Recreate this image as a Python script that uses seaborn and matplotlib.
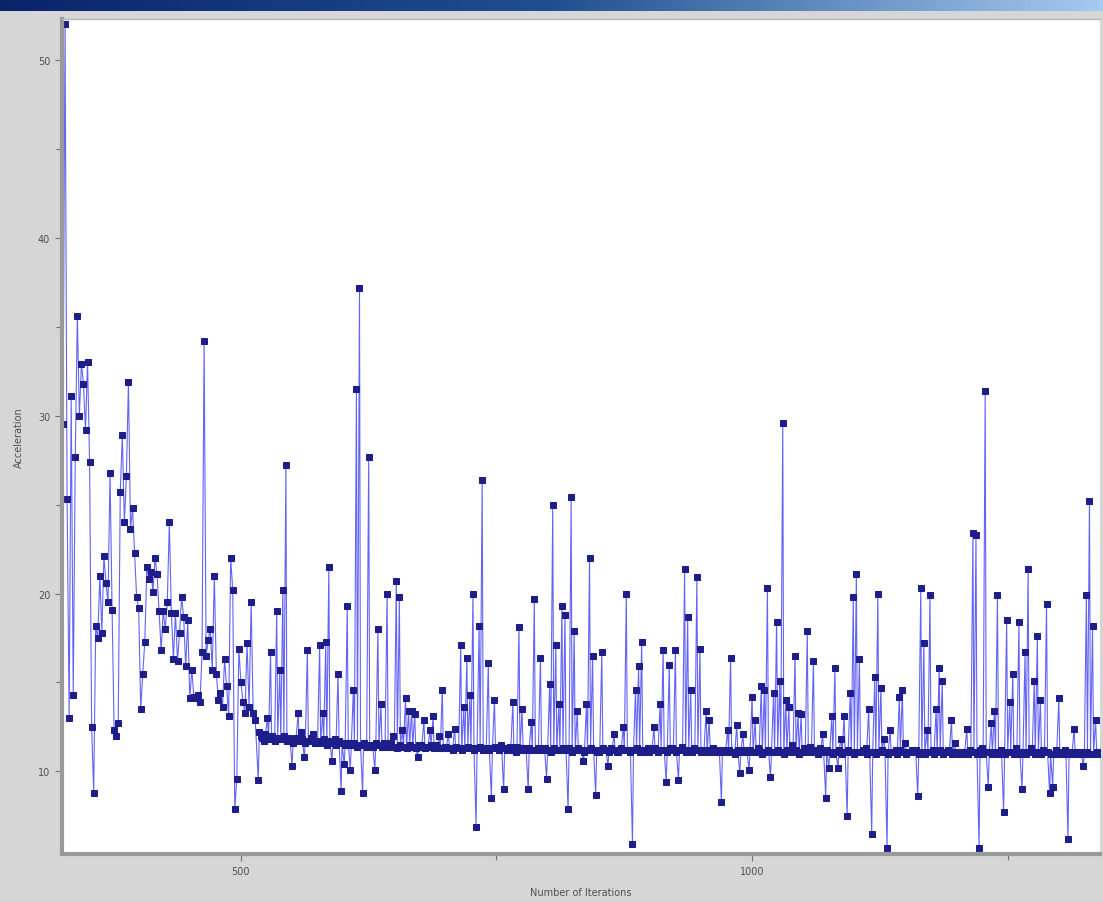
import numpy as np
import pandas as pd
import matplotlib
matplotlib.use("Agg")
import matplotlib.pyplot as plt
from matplotlib.colors import LinearSegmentedColormap
from matplotlib.ticker import MultipleLocator
import seaborn as sns

# ---- data ----
# early part, every 2nd iteration
early_iters = np.arange(326, 515, 2)
early_vals = [
    29.5, 52.0, 25.3, 13.0, 31.1, 14.3, 27.7, 35.6, 30.0, 32.9,
    31.8, 29.2, 33.0, 27.4, 12.5, 8.8, 18.2, 17.5, 21.0, 17.8,
    22.1, 20.6, 19.5, 26.8, 19.1, 12.3, 12.0, 12.7, 25.7, 28.9,
    24.0, 26.6, 31.9, 23.6, 24.8, 22.3, 19.8, 19.2, 13.5, 15.5,
    17.3, 21.5, 20.8, 21.2, 20.1, 22.0, 21.1, 19.0, 16.8, 19.0,
    18.0, 19.5, 24.0, 18.9, 16.3, 18.9, 16.2, 17.8, 19.8, 18.7,
    15.9, 18.5, 14.1, 15.7, 14.2, 14.1, 14.3, 13.9, 16.7, 34.2,
    16.5, 17.4, 18.0, 15.7, 21.0, 15.5, 14.0, 14.4, 13.6, 16.3,
    14.8, 13.1, 22.0, 20.2, 7.9, 9.6, 16.9, 15.0, 13.9, 13.3,
    17.2, 13.6, 19.5, 13.3, 12.9,
]
# rest, readings every 3rd iteration (spikes and scatter)
late_iters = np.arange(517, 1340, 3)
late_vals = [
    9.5, 12.0, 11.7, 13.0, 16.7, 11.8, 19.0, 15.7, 20.2, 27.2,
    11.9, 10.3, 11.8, 13.3, 12.2, 10.8, 16.8, 11.7, 12.1, 11.6,
    17.1, 13.3, 17.3, 21.5, 10.6, 11.8, 15.5, 8.9, 10.4, 19.3,
    10.1, 14.6, 31.5, 37.2, 8.8, 11.5, 27.7, 11.4, 10.1, 18.0,
    13.8, 11.6, 20.0, 11.4, 12.0, 20.7, 19.8, 12.3, 14.1, 13.4,
    13.4, 13.2, 10.8, 11.5, 12.9, 11.4, 12.3, 13.1, 11.5, 12.0,
    14.6, 11.4, 12.1, 11.3, 12.4, 11.3, 17.1, 13.6, 16.4, 14.3,
    20.0, 6.9, 18.2, 26.4, 11.2, 16.1, 8.5, 14.0, 11.3, 11.5,
    9.0, 11.2, 11.4, 13.9, 11.1, 18.1, 13.5, 11.3, 9.0, 12.8,
    19.7, 11.2, 16.4, 11.3, 9.6, 14.9, 25.0, 17.1, 13.8, 19.3,
    18.8, 7.9, 25.4, 17.9, 13.4, 11.2, 10.6, 13.8, 22.0, 16.5,
    8.7, 11.1, 16.7, 11.2, 10.3, 11.3, 12.1, 11.1, 11.2, 12.5,
    20.0, 11.2, 5.9, 14.6, 15.9, 17.3, 11.1, 11.3, 11.2, 12.5,
    11.2, 13.8, 16.8, 9.4, 16.0, 11.3, 16.8, 9.5, 11.4, 21.4,
    18.7, 14.6, 11.3, 20.9, 16.9, 11.2, 13.4, 12.9, 11.1, 11.2,
    11.1, 8.3, 11.2, 12.3, 16.4, 11.1, 12.6, 9.9, 12.1, 11.2,
    10.1, 14.2, 12.9, 11.3, 14.8, 14.6, 20.3, 9.7, 14.4, 18.4,
    15.1, 29.6, 14.0, 13.6, 11.5, 16.5, 13.3, 13.2, 11.3, 17.9,
    11.4, 16.2, 11.2, 11.3, 12.1, 8.5, 10.2, 13.1, 15.8, 10.2,
    11.8, 13.1, 7.5, 14.4, 19.8, 21.1, 16.3, 11.2, 11.3, 13.5,
    6.5, 15.3, 20.0, 14.7, 11.8, 5.7, 12.3, 11.1, 11.2, 14.2,
    14.6, 11.6, 11.1, 11.2, 11.1, 8.6, 20.3, 17.2, 12.3, 19.9,
    11.2, 13.5, 15.8, 15.1, 11.1, 11.2, 12.9, 11.6, 11.1, 11.0,
    11.1, 12.4, 11.2, 23.4, 23.3, 5.7, 11.3, 31.4, 9.1, 12.7,
    13.4, 19.9, 11.2, 7.7, 18.5, 13.9, 15.5, 11.3, 18.4, 9.0,
    16.7, 21.4, 11.3, 15.1, 17.6, 14.0, 11.2, 19.4, 8.8, 9.1,
    11.2, 14.1, 11.1, 11.2, 6.2, 11.1, 12.4, 11.0, 11.1, 10.3,
    19.9, 25.2, 18.2, 12.9, 11.1,
]
# the dense settled band, read one iteration after each of the above
band_iters = np.arange(518, 1341, 3)
band_vals = [
    12.2, 11.9, 12.1, 11.8, 12.0, 11.7, 11.9, 11.8, 12.0, 11.7,
    11.8, 11.6, 11.9, 11.7, 11.8, 11.6, 11.7, 11.9, 11.6, 11.7,
    11.6, 11.8, 11.5, 11.7, 11.6, 11.5, 11.7, 11.6, 11.5, 11.6,
    11.5, 11.6, 11.4, 11.5, 11.6, 11.4, 11.5, 11.4, 11.6, 11.5,
    11.4, 11.5, 11.4, 11.6, 11.4, 11.3, 11.5, 11.4, 11.3, 11.5,
    11.4, 11.3, 11.5, 11.4, 11.3, 11.4, 11.5, 11.3, 11.4, 11.3,
    11.3, 11.4, 11.3, 11.2, 11.4, 11.3, 11.2, 11.3, 11.4, 11.3,
    11.2, 11.3, 11.4, 11.2, 11.3, 11.2, 11.3, 11.4, 11.2, 11.3,
    11.3, 11.2, 11.3, 11.2, 11.4, 11.2, 11.3, 11.2, 11.3, 11.2,
    11.2, 11.3, 11.2, 11.3, 11.2, 11.1, 11.3, 11.2, 11.2, 11.3,
    11.2, 11.3, 11.1, 11.2, 11.3, 11.2, 11.1, 11.2, 11.3, 11.2,
    11.1, 11.2, 11.3, 11.2, 11.1, 11.2, 11.2, 11.1, 11.3, 11.2,
    11.2, 11.1, 11.2, 11.3, 11.1, 11.2, 11.2, 11.1, 11.2, 11.3,
    11.1, 11.2, 11.2, 11.1, 11.3, 11.2, 11.1, 11.2, 11.2, 11.1,
    11.2, 11.1, 11.2, 11.2, 11.1, 11.2, 11.1, 11.2, 11.3, 11.1,
    11.1, 11.2, 11.1, 11.2, 11.1, 11.0, 11.2, 11.1, 11.2, 11.1,
    11.2, 11.1, 11.1, 11.2, 11.0, 11.1, 11.2, 11.1, 11.1, 11.2,
    11.1, 11.0, 11.2, 11.1, 11.1, 11.2, 11.0, 11.1, 11.2, 11.1,
    11.1, 11.2, 11.0, 11.1, 11.1, 11.2, 11.1, 11.0, 11.1, 11.2,
    11.0, 11.1, 11.2, 11.1, 11.0, 11.1, 11.1, 11.2, 11.0, 11.1,
    11.1, 11.0, 11.1, 11.2, 11.1, 11.0, 11.1, 11.1, 11.0, 11.2,
    11.1, 11.0, 11.1, 11.1, 11.2, 11.0, 11.1, 11.0, 11.1, 11.1,
    11.0, 11.1, 11.2, 11.0, 11.1, 11.1, 11.0, 11.1, 11.0, 11.1,
    11.1, 11.0, 11.1, 11.1, 11.0, 11.2, 11.0, 11.1, 11.1, 11.0,
    11.1, 11.0, 11.1, 11.0, 11.1, 11.1, 11.0, 11.1, 11.0, 11.1,
    11.0, 11.1, 11.1, 11.0, 11.1, 11.0, 11.1, 11.1, 11.0, 11.0,
    11.1, 11.0, 11.1, 11.0, 11.0, 11.1, 11.0, 11.1, 11.0, 11.0,
    11.1, 11.0, 11.0, 11.1, 11.0,
]

df = pd.concat([
    pd.DataFrame({"Iteration": early_iters, "Acceleration": early_vals}),
    pd.DataFrame({"Iteration": late_iters, "Acceleration": late_vals}),
    pd.DataFrame({"Iteration": band_iters, "Acceleration": band_vals}),
]).sort_values("Iteration").reset_index(drop=True)

# ---- plot ----
sns.set_style("white")
plt.rcParams["font.family"] = ["DejaVu Sans"]

fig = plt.figure(figsize=(11.03, 9.03), dpi=100)
fig.patch.set_facecolor("#d6d6d6")
ax = fig.add_axes([0.0562, 0.053, 0.9408, 0.925])

sns.lineplot(
    data=df, x="Iteration", y="Acceleration", ax=ax,
    color="#6464f4", linewidth=0.8, errorbar=None,
    marker="s", markersize=4,
    markerfacecolor="#1e1e8a", markeredgecolor="#1e1e8a",
)

ax.set_xlim(325, 1340)
ax.set_ylim(5.35, 52.3)
ax.set_facecolor("white")

ax.xaxis.set_major_locator(MultipleLocator(500))
ax.xaxis.set_minor_locator(MultipleLocator(250))
ax.yaxis.set_major_locator(MultipleLocator(10))
ax.yaxis.set_minor_locator(MultipleLocator(5))
ax.tick_params(axis="both", which="both", direction="out", color="#707070",
               labelsize=7, labelcolor="#505050", bottom=True, left=True)
ax.tick_params(which="major", length=5, width=0.8)
ax.tick_params(which="minor", length=4, width=0.8)

for side in ["left", "bottom"]:
    ax.spines[side].set_color("#9a9a9a")
    ax.spines[side].set_linewidth(3)
ax.spines["top"].set_color("#b8b8b8")
ax.spines["top"].set_linewidth(1)
ax.spines["right"].set_visible(False)

ax.set_xlabel("Number of Iterations", fontsize=7, color="#505050", labelpad=8)
ax.set_ylabel("Acceleration", fontsize=7, color="#505050", labelpad=10)

# window title bar strip at the top
bar = fig.add_axes([0, 1 - 12 / 903, 1, 12 / 903])
cmap = LinearSegmentedColormap.from_list("bar", ["#0a246a", "#1f4f8f", "#a6caf0"])
bar.imshow(np.linspace(0, 1, 256).reshape(1, -1), aspect="auto", cmap=cmap)
bar.axis("off")

fig.savefig("out.png", dpi=100, facecolor=fig.get_facecolor())
